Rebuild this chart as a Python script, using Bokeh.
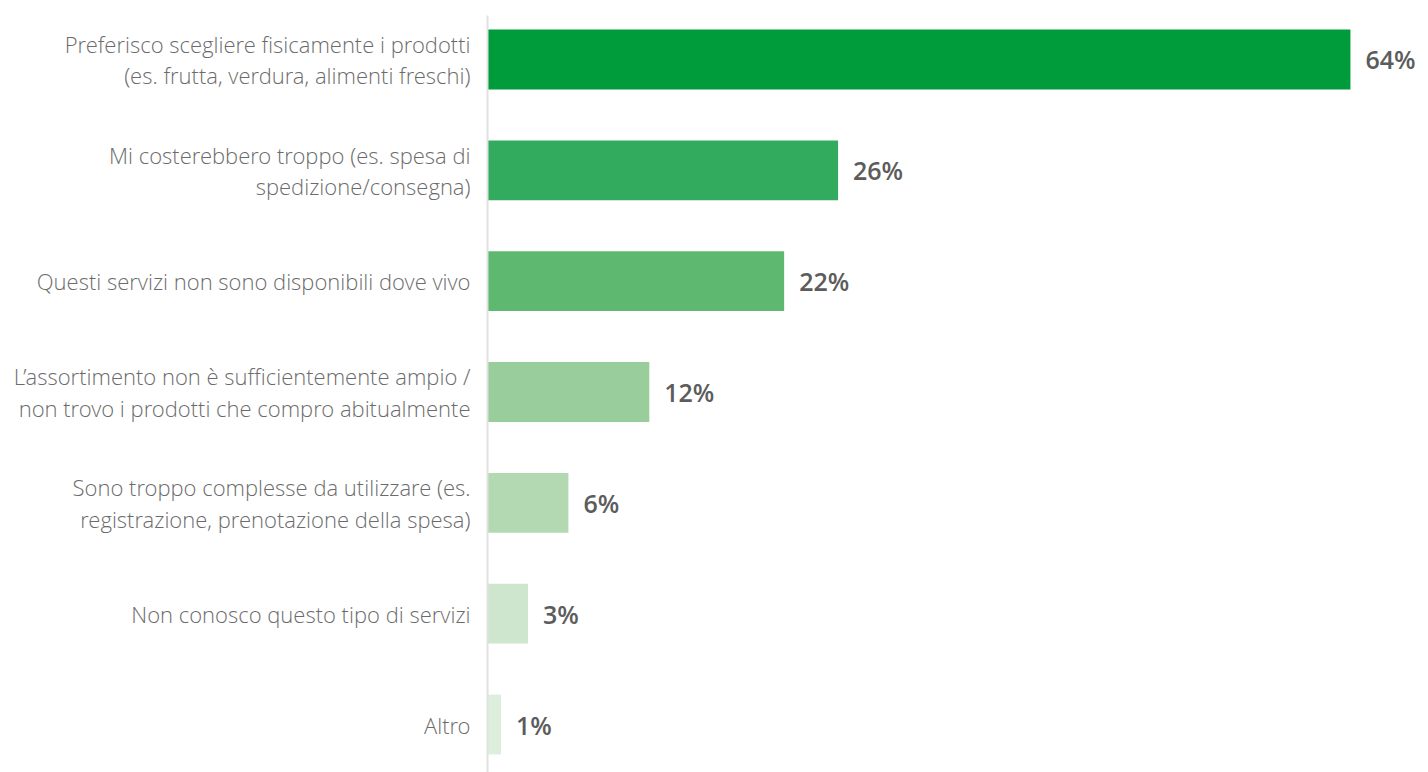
from bokeh.plotting import figure
from bokeh.models import ColumnDataSource, Range1d
from bokeh.core.properties import value
from bokeh.embed import file_html
from bokeh.resources import INLINE

# Reasons for not using online grocery services (share of respondents, %)
categories = [
    "Preferisco scegliere fisicamente i prodotti\n(es. frutta, verdura, alimenti freschi)",
    "Mi costerebbero troppo (es. spesa di\nspedizione/consegna)",
    "Questi servizi non sono disponibili dove vivo",
    "L\u2019assortimento non è sufficientemente ampio /\nnon trovo i prodotti che compro abitualmente",
    "Sono troppo complesse da utilizzare (es.\nregistrazione, prenotazione della spesa)",
    "Non conosco questo tipo di servizi",
    "Altro",
]
values = [64, 26, 22, 12, 6, 3, 1]
colors = ["#009b3a", "#33ab5e", "#5eb870", "#99cd9b", "#b2d9b2", "#cde6cd", "#ddeedd"]

n = len(categories)
ypos = [n - 1 - i for i in range(n)]

src = ColumnDataSource(dict(
    y=ypos,
    v=values,
    zero=[0] * n,
    cat=categories,
    color=colors,
    lbl=[f"{v}%" for v in values],
))

p = figure(
    width=1428, height=772,
    x_range=Range1d(-36.12, 69.79),
    y_range=Range1d(-0.433, 6.532),
    output_backend="svg", toolbar_location=None,
    min_border=0, outline_line_color=None,
)
p.axis.visible = False
p.grid.visible = False
p.background_fill_color = "white"
p.border_fill_color = "white"

# bars
p.hbar(y="y", left="zero", right="v", height=0.54, fill_color="color",
       line_color=None, source=src)

# baseline axis
p.segment(x0=[0], y0=[-0.433], x1=[0], y1=[6.397], line_color="#e0e0e0", line_width=2)

# category labels
p.text(x="zero", y="y", text="cat", source=src, x_offset=-17,
       text_align="right", text_baseline="middle",
       text_font=value("Open Sans Light, Open Sans"), text_font_size="22px",
       text_color="#6b6b6b", text_line_height=1.05)

# value labels
p.text(x="v", y="y", text="lbl", source=src, x_offset=15,
       text_align="left", text_baseline="middle",
       text_font=value("Open Sans SemiBold, Open Sans Semibold, Open Sans"),
       text_font_size="25px", text_color="#5c5c5c")

open("out.html", "w").write(file_html(p, INLINE))
